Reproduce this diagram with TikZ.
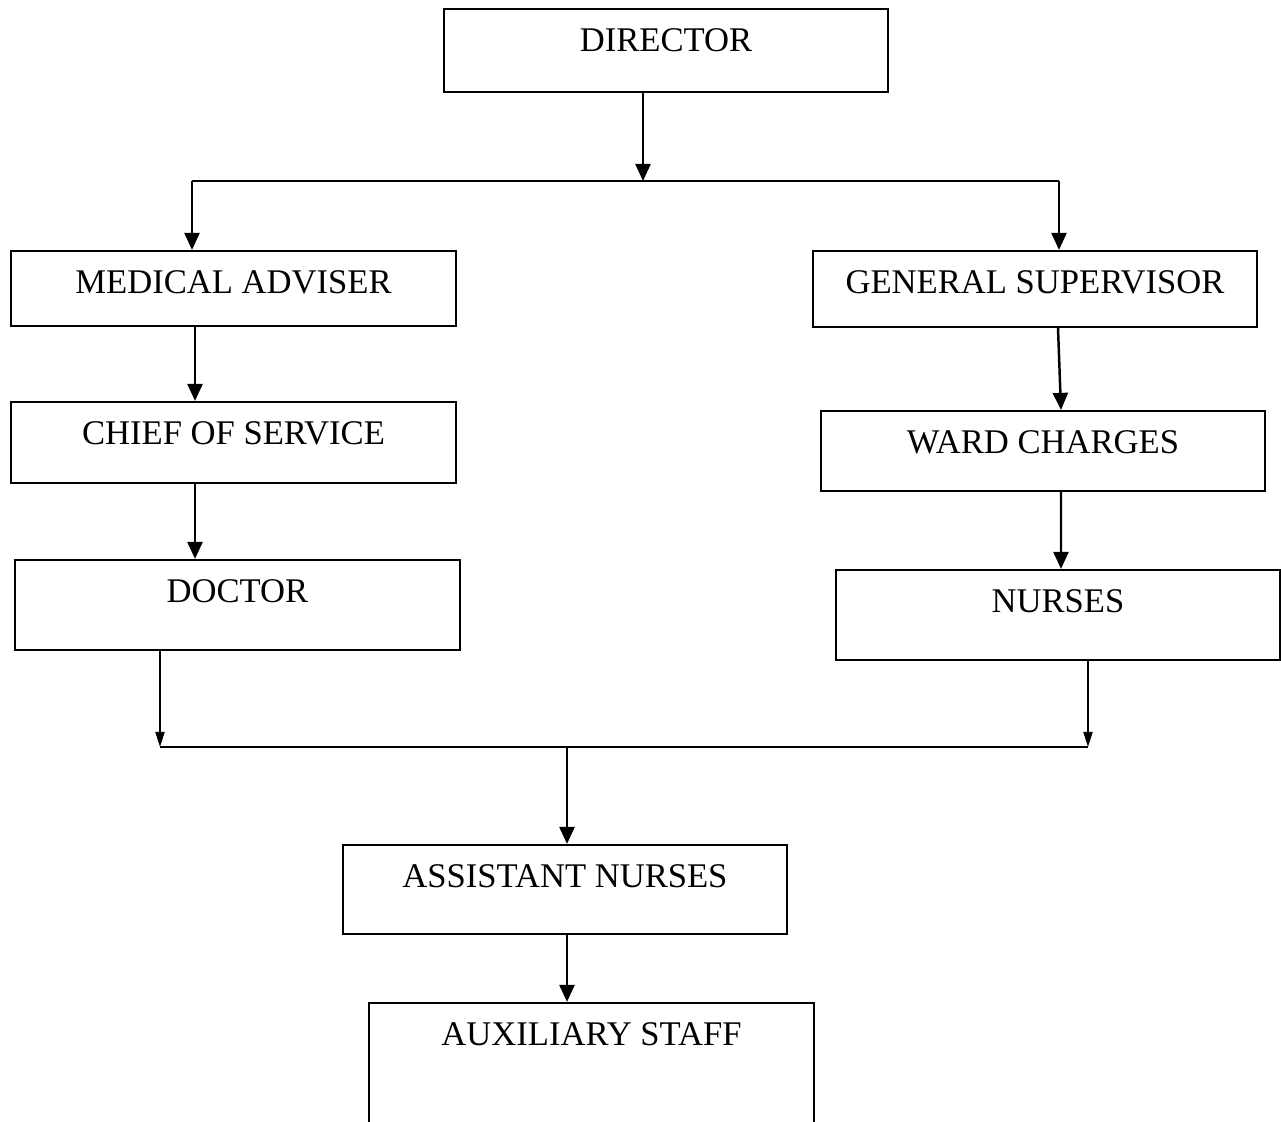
\documentclass[tikz,border=0pt]{standalone}
\usepackage{fontspec}
\setmainfont{Liberation Serif}
\usetikzlibrary{arrows.meta}

\begin{document}
\begin{tikzpicture}[x=0.01cm,y=-0.01cm,
    unitbox/.style={draw,line width=0.6pt,minimum width=4.44cm,inner sep=0pt,text height=0.43cm,anchor=base,font=\fontsize{9.84}{12}\selectfont},
    link/.style={line width=0.7pt,-{Triangle[length=0.17cm,width=0.15cm]}},
    thinlink/.style={line width=0.55pt,-{Triangle[length=0.15cm,width=0.09cm]}},
    bar/.style={line width=0.7pt}]
    \useasboundingbox (0,0) rectangle (1281,1122);
    \clip (0,0) rectangle (1281,1122);
    \node[unitbox,text depth=0.40cm] (dir) at (666,52) {DIRECTOR};
    \node[unitbox,text depth=0.32cm] (med) at (233.5,294) {MEDICAL ADVISER};
    \node[unitbox,text depth=0.33cm] (gs) at (1035,294) {GENERAL SUPERVISOR};
    \node[unitbox,text depth=0.38cm] (chief) at (233.5,445) {CHIEF OF SERVICE};
    \node[unitbox,text depth=0.37cm] (ward) at (1043,454) {WARD CHARGES};
    \node[unitbox,text depth=0.47cm] (doc) at (237.5,603) {DOCTOR};
    \node[unitbox,text depth=0.47cm] (nurse) at (1058,613) {NURSES};
    \node[unitbox,text depth=0.46cm] (asst) at (565,888) {ASSISTANT NURSES};
    \node[unitbox,text depth=1.20cm] (aux) at (591.5,1046) {AUXILIARY STAFF};
    \coordinate (split) at (643,181);
    \coordinate (sl) at (192,181);
    \coordinate (sr) at (1059,181);
    \coordinate (ml) at (195,0);
    \coordinate (jl) at (160,747);
    \coordinate (jr) at (1088,747);
    \coordinate (join) at (567,747);
    \draw[link] (dir.south -| split) -- (split);
    \draw[bar] (sl) -- (sr);
    \draw[link] (sl) -- (sl |- med.north);
    \draw[link] (sr) -- (sr |- gs.north);
    \draw[link] (med.south -| ml) -- (chief.north -| ml);
    \draw[link] (chief.south -| ml) -- (doc.north -| ml);
    \draw[link] ([xshift=0.23cm]gs.south) -- ([xshift=0.18cm]ward.north);
    \draw[link] ([xshift=0.18cm]ward.south) -- ([xshift=0.03cm]nurse.north);
    \draw[thinlink] (doc.south -| jl) -- (jl);
    \draw[thinlink] (nurse.south -| jr) -- (jr);
    \draw[bar] (jl) -- (jr);
    \draw[link] (join) -- (join |- asst.north);
    \draw[link] (asst.south -| join) -- (aux.north -| join);
\end{tikzpicture}
\end{document}
